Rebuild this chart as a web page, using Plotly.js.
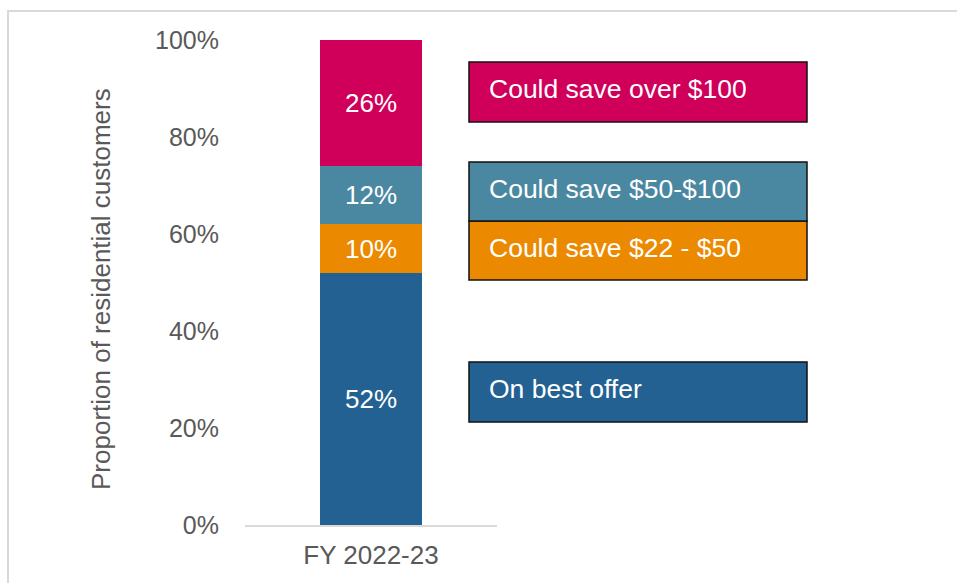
<!DOCTYPE html>
<html>
<head>
<meta charset="utf-8">
<script src="https://cdn.plot.ly/plotly-3.0.1.min.js"></script>
<style>
html,body{margin:0;padding:0;background:#fff;}
#chart{width:957px;height:583px;}
</style>
</head>
<body>
<div id="chart"></div>
<script>
const categories = ["FY 2022-23"];
const seriesNames = ["On best offer", "Could save $22 - $50", "Could save $50-$100", "Could save over $100"];
const onBest = [52];
const save22to50 = [10];
const save50to100 = [12];
const saveOver100 = [26];
const seriesValues = [onBest, save22to50, save50to100, saveOver100];
const colors = ["#236192", "#EB8A00", "#4A88A2", "#D0005A"];
const yTickVals = [0, 20, 40, 60, 80, 100];
const yTickText = ["0%", "20%", "40%", "60%", "80%", "100%"];
const yTitle = "Proportion of residential customers";

const W = 957, H = 583;
const L = 245, R = 497, T = 40, B = 525;
const px = x => (x - L) / (R - L);
const py = y => (B - y) / (B - T);
const FONT = 'Liberation Sans, Arial, sans-serif';

const traces = seriesValues.map((vals, i) => ({
  type: 'bar',
  x: categories,
  y: vals,
  name: seriesNames[i],
  marker: {color: colors[i], line: {width: 0}},
  text: vals.map(v => v + '%'),
  textposition: 'inside',
  insidetextanchor: 'middle',
  textangle: 0,
  constraintext: 'none',
  textfont: {family: FONT, size: 26, color: '#ffffff'},
  hoverinfo: 'skip',
  width: 0.405
}));

const boxes = [
  {y0: 362, y1: 422, idx: 0},
  {y0: 221, y1: 280, idx: 1},
  {y0: 162, y1: 221, idx: 2},
  {y0: 62, y1: 122, idx: 3}
];
const shapes = [];
const annotations = [];
boxes.forEach(b => {
  shapes.push({type: 'rect', xref: 'paper', yref: 'paper',
    x0: px(469), x1: px(807), y0: py(b.y1), y1: py(b.y0),
    fillcolor: colors[b.idx], line: {color: '#111111', width: 1.5}, layer: 'above'});
  annotations.push({xref: 'paper', yref: 'paper', x: px(487), y: py((b.y0 + b.y1) / 2 - 3),
    xanchor: 'left', yanchor: 'middle', showarrow: false, text: seriesNames[b.idx],
    font: {family: FONT, size: 26.5, color: '#ffffff'}});
});
annotations.push({xref: 'paper', yref: 'paper', x: px(101), y: py(289),
  xanchor: 'center', yanchor: 'middle', showarrow: false, textangle: -90,
  text: yTitle, font: {family: FONT, size: 26, color: '#595959'}});
shapes.push({type: 'rect', xref: 'paper', yref: 'paper',
  x0: px(8), x1: px(1000), y0: py(620), y1: py(11),
  fillcolor: 'rgba(0,0,0,0)', line: {color: '#d9d9d9', width: 2}, layer: 'below'});

const layout = {
  width: W, height: H,
  margin: {l: L, r: W - R, t: T, b: H - B},
  paper_bgcolor: '#ffffff', plot_bgcolor: '#ffffff',
  barmode: 'stack',
  showlegend: false,
  font: {family: FONT, size: 26, color: '#595959'},
  xaxis: {
    showline: true, linecolor: '#d9d9d9', linewidth: 1.5,
    showgrid: false, zeroline: false, ticks: '',
    ticklabelstandoff: 6,
    tickfont: {family: FONT, size: 26, color: '#595959'}, fixedrange: true
  },
  yaxis: {
    range: [0, 100], tickvals: yTickVals, ticktext: yTickText,
    showgrid: false, zeroline: false, showline: false, ticks: '',
    ticklabelstandoff: 25,
    tickfont: {family: FONT, size: 25, color: '#595959'},
    fixedrange: true
  },
  shapes: shapes,
  annotations: annotations
};

Plotly.newPlot('chart', traces, layout, {displayModeBar: false, staticPlot: true});
</script>
</body>
</html>
